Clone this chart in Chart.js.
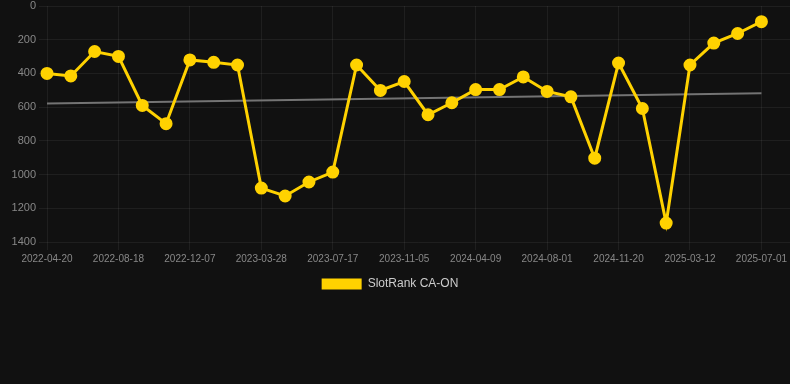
<!DOCTYPE html>
<html>
<head>
<meta charset="utf-8">
<script src="https://cdn.jsdelivr.net/npm/chart.js@4/dist/chart.umd.min.js"></script>
<style>
html,body{margin:0;padding:0;background:#111111;}
#wrap{position:relative;width:790px;height:300px;}
</style>
</head>
<body>
<div id="wrap"><canvas id="c"></canvas></div>
<script>
const dates = [
  "2022-04-20","2022-05-30","2022-07-09","2022-08-18","2022-09-24","2022-10-31",
  "2022-12-07","2023-01-13","2023-02-19","2023-03-28","2023-05-04","2023-06-10",
  "2023-07-17","2023-08-23","2023-09-29","2023-11-05","2023-12-27","2024-02-17",
  "2024-04-09","2024-05-17","2024-06-24","2024-08-01","2024-09-07","2024-10-14",
  "2024-11-20","2024-12-27","2025-02-03","2025-03-12","2025-04-18","2025-05-25",
  "2025-07-01"
];
const rankValues = [
  400, 415, 270, 299, 590, 698, 320, 334, 350, 1080, 1127, 1044, 985,
  350, 501, 448, 645, 574, 496, 496, 421, 507, 539, 903, 338, 608, 1288,
  350, 220, 163, 93
];
const trendEnds = [578, 517];
const yTicks = [0, 200, 400, 600, 800, 1000, 1200, 1400];

const seriesPoints = rankValues.map((v, i) => ({x: i, y: v}));
const trendPoints = [{x: 0, y: trendEnds[0]}, {x: dates.length - 1, y: trendEnds[1]}];

const legendShift = {
  id: 'legendShift',
  afterLayout(chart) {
    if (chart.legend) { chart.legend.left -= 5; chart.legend.right -= 5; }
  }
};

new Chart(document.getElementById('c'), {
  type: 'line',
  plugins: [legendShift],
  data: {
    datasets: [
      {
        label: 'SlotRank CA-ON',
        data: seriesPoints,
        borderColor: '#FFD200',
        backgroundColor: '#FFD200',
        borderWidth: 3,
        pointRadius: 5,
        pointHoverRadius: 5,
        pointBackgroundColor: '#FFD200',
        pointBorderColor: '#FFD200',
        tension: 0,
        clip: false
      },
      {
        label: 'trend',
        data: trendPoints,
        borderColor: '#747474',
        backgroundColor: '#747474',
        borderWidth: 2,
        pointRadius: 0,
        tension: 0,
        clip: false
      }
    ]
  },
  options: {
    responsive: true,
    maintainAspectRatio: false,
    animation: false,
    layout: {autoPadding: false, padding: 0},
    plugins: {
      legend: {
        position: 'bottom',
        labels: {
          color: '#cccccc',
          font: {family: 'Liberation Sans, Arial, sans-serif', size: 12},
          boxWidth: 40,
          boxHeight: 11,
          generateLabels: chart => {
            const items = Chart.defaults.plugins.legend.labels.generateLabels(chart);
            return items.filter(it => it.text !== 'trend').map(it => Object.assign(it, {lineWidth: 0}));
          }
        }
      },
      tooltip: {enabled: false}
    },
    scales: {
      x: {
        type: 'linear',
        min: 0,
        max: 31.2,
        grid: {color: 'rgba(255,255,255,0.06)', tickLength: 8},
        border: {display: false},
        afterBuildTicks: axis => {
          const t = [];
          for (let i = 0; i < dates.length; i += 3) t.push({value: i});
          axis.ticks = t;
        },
        ticks: {
          color: '#888888',
          font: {family: 'Liberation Sans, Arial, sans-serif', size: 10},
          maxRotation: 0,
          autoSkip: false,
          callback: v => dates[v]
        }
      },
      y: {
        reverse: true,
        min: 0,
        max: 1400,
        grid: {color: 'rgba(255,255,255,0.06)', tickLength: 8},
        border: {display: false},
        afterBuildTicks: axis => { axis.ticks = yTicks.map(v => ({value: v})); },
        afterFit: axis => { axis.width = 47; axis.paddingTop = 6; axis.paddingBottom = 6; },
        ticks: {
          color: '#888888',
          font: {family: 'Liberation Sans, Arial, sans-serif', size: 11},
          padding: 3,
          callback: v => String(v)
        }
      }
    }
  }
});
</script>
</body>
</html>
